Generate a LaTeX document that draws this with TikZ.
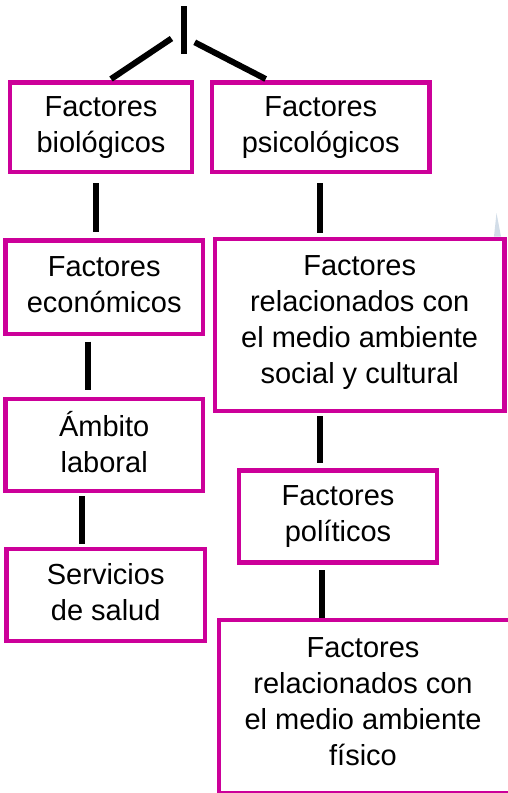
\documentclass[tikz,border=0pt]{standalone}
\usepackage{fontspec}
\setmainfont{Liberation Sans}
\definecolor{boxmag}{RGB}{204,0,153}
\definecolor{faint}{RGB}{210,221,232}
\newcommand\sta{\rule[-5.3pt]{0pt}{26pt}}
\newcommand\stb{\rule[-11pt]{0pt}{26pt}}
\begin{document}
\begin{tikzpicture}[x=1pt,y=-1pt,
  fbox/.style={draw=boxmag,line width=4.5pt,rectangle,inner sep=0pt,align=center,
    font=\fontsize{29}{36}\selectfont,text=black},
  conn/.style={line width=6pt,black}]
\useasboundingbox (0,0) rectangle (507,793);
% boxes
\node[fbox,minimum width=182pt,minimum height=89.5pt] (b1) at (101,127.25) {\sta Factores\\biológicos\sta};
\node[fbox,minimum width=217.5pt,minimum height=89.5pt] (b2) at (320.75,127.25) {\sta Factores\\psicológicos\sta};
\node[fbox,minimum width=197.7pt,minimum height=93.7pt] (b3) at (104.2,287.2) {\sta Factores\\económicos\sta};
\node[fbox,minimum width=289.3pt,minimum height=171.7pt] (b4) at (359.7,324.9) {\sta Factores\\relacionados con\\el medio ambiente\\social y cultural\stb};
\node[fbox,minimum width=197.7pt,minimum height=91.7pt] (b5) at (104.2,444.9) {\sta Ámbito\\laboral\sta};
\node[fbox,minimum width=198pt,minimum height=92.2pt] (b6) at (338,516.6) {\sta Factores\\políticos\sta};
\node[fbox,minimum width=198.7pt,minimum height=92pt] (b7) at (105.7,595) {\sta Servicios\\de salud\sta};
% last box: its right side lies beyond the page edge
\node[fbox,draw=none,outer sep=0pt,minimum width=288pt,minimum height=173pt] (b8) at (363,706.5) {\sta Factores\\relacionados con\\el medio ambiente\\físico\stb};
\draw[boxmag,line width=4.5pt] ([xshift=6pt]b8.north east) -- (b8.north west) -- (b8.south west) -- ([xshift=6pt]b8.south east);
% connector end points
\coordinate (t0) at (184,6);
\coordinate (t1) at (184,54);
\coordinate (dl0) at (171.5,38.5);
\coordinate (dl1) at (111,79);
\coordinate (dr0) at (194.7,42.3);
\coordinate (dr1) at (265.7,79);
\coordinate (l1a) at (96.2,183);
\coordinate (l1b) at (96.2,232);
\coordinate (r1a) at (319.7,183);
\coordinate (r1b) at (319.7,233.3);
\coordinate (l2a) at (88,341.7);
\coordinate (l2b) at (88,390);
\coordinate (r2a) at (319.7,416);
\coordinate (r2b) at (319.7,463.3);
\coordinate (l3a) at (81.8,496);
\coordinate (l3b) at (81.8,544);
\coordinate (r3a) at (322,570);
\coordinate (r3b) at (322,618.3);
% connectors
\draw[conn] (t0) -- (t1);
\draw[conn] (dl0) -- (dl1);
\draw[conn] (dr0) -- (dr1);
\draw[conn] (l1a) -- (l1b);
\draw[conn] (r1a) -- (r1b);
\draw[conn] (l2a) -- (l2b);
\draw[conn] (r2a) -- (r2b);
\draw[conn] (l3a) -- (l3b);
\draw[conn] (r3a) -- (r3b);
% faint mark
\fill[faint] (494,236.5) -- (496.5,213) -- (501,236.5) -- cycle;
\end{tikzpicture}
\end{document}
